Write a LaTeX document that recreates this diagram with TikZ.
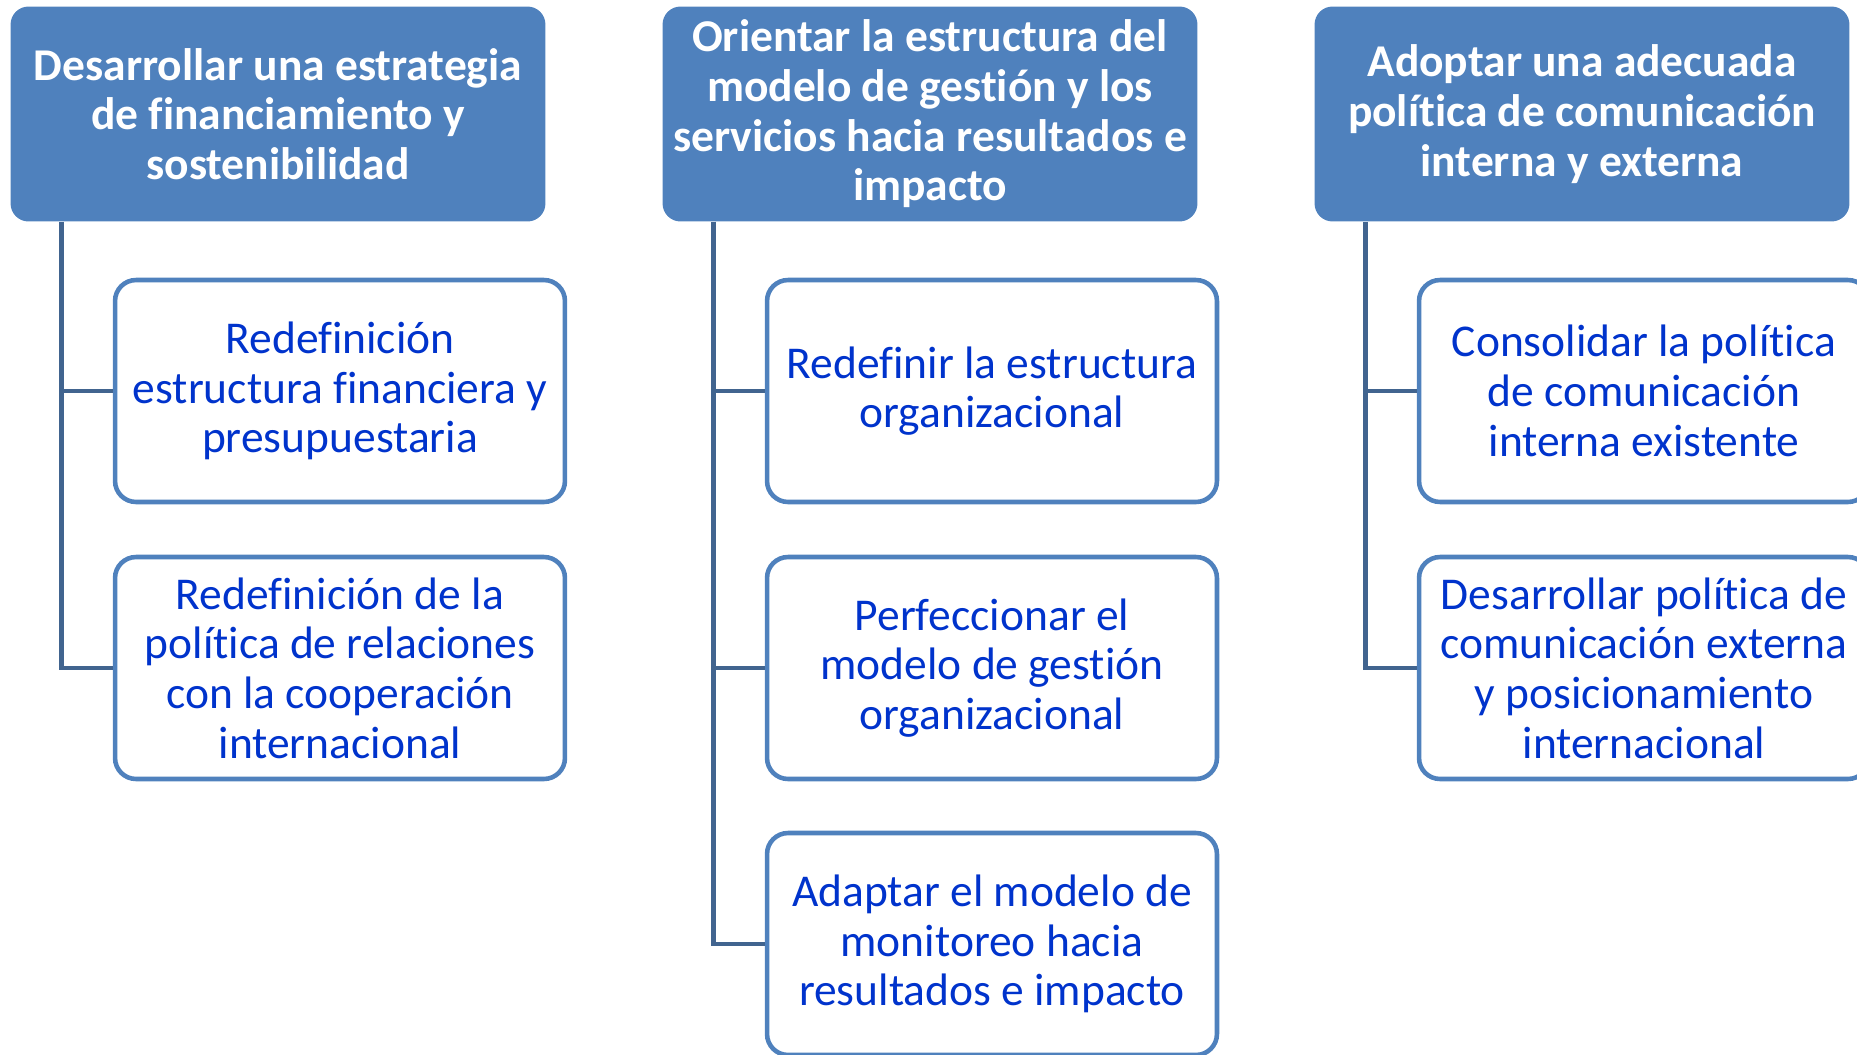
\documentclass[tikz,border=0pt]{standalone}
\usepackage{fontspec}
\setmainfont[Ligatures=NoCommon]{Carlito}
\definecolor{headblue}{RGB}{79,129,189}
\definecolor{trunkblue}{RGB}{65,100,143}
\definecolor{itemtext}{RGB}{0,51,204}
\begin{document}
\begin{tikzpicture}[x=0.02cm,y=-0.02cm,
    head/.style={rounded corners=0.36cm, fill=headblue, text=white,
      font=\bfseries\fontsize{25.9}{28.3}\selectfont, align=center,
      minimum width=10.7cm, minimum height=4.3cm, inner sep=0pt},
    item/.style={rounded corners=0.42cm, draw=headblue, line width=2.6pt,
      fill=white, text=itemtext, font=\fontsize{25.9}{28.3}\selectfont,
      align=center, minimum width=9cm, minimum height=4.44cm, inner sep=0pt},
    trunk/.style={draw=trunkblue, line width=2.8pt}]
  \useasboundingbox (0,0) rectangle (1857,1055);
  % headers
  \node[head] (h1) at (278,114) {Desarrollar una estrategia\\de financiamiento y\\sostenibilidad};
  \node[head] (h2) at (930,114) {Orientar la estructura del\\modelo de gestión y los\\servicios hacia resultados e\\impacto};
  \node[head] (h3) at (1582,114) {Adoptar una adecuada\\política de comunicación\\interna y externa};
  % column 1
  \node[item] (c11) at (340,391) {Redefinición\\estructura financiera y\\presupuestaria};
  \node[item] (c12) at (340,668) {Redefinición de la\\política de relaciones\\con la cooperación\\internacional};
  % column 2
  \node[item] (c21) at (992,391) {Redefinir la estructura\\organizacional};
  \node[item] (c22) at (992,668) {Perfeccionar el\\modelo de gestión\\organizacional};
  \node[item] (c23) at (992,944) {Adaptar el modelo de\\monitoreo hacia\\resultados e impacto};
  % column 3
  \node[item] (c31) at (1644,391) {Consolidar la política\\de comunicación\\interna existente};
  \node[item] (c32) at (1644,668) {Desarrollar política de\\comunicación externa\\y posicionamiento\\internacional};
  % connectors
  \draw[trunk] ([xshift=1.03cm]h1.south west) |- (c11.west);
  \draw[trunk] ([xshift=1.03cm]h1.south west) |- (c12.west);
  \draw[trunk] ([xshift=1.03cm]h2.south west) |- (c21.west);
  \draw[trunk] ([xshift=1.03cm]h2.south west) |- (c22.west);
  \draw[trunk] ([xshift=1.03cm]h2.south west) |- (c23.west);
  \draw[trunk] ([xshift=1.03cm]h3.south west) |- (c31.west);
  \draw[trunk] ([xshift=1.03cm]h3.south west) |- (c32.west);
\end{tikzpicture}
\end{document}
